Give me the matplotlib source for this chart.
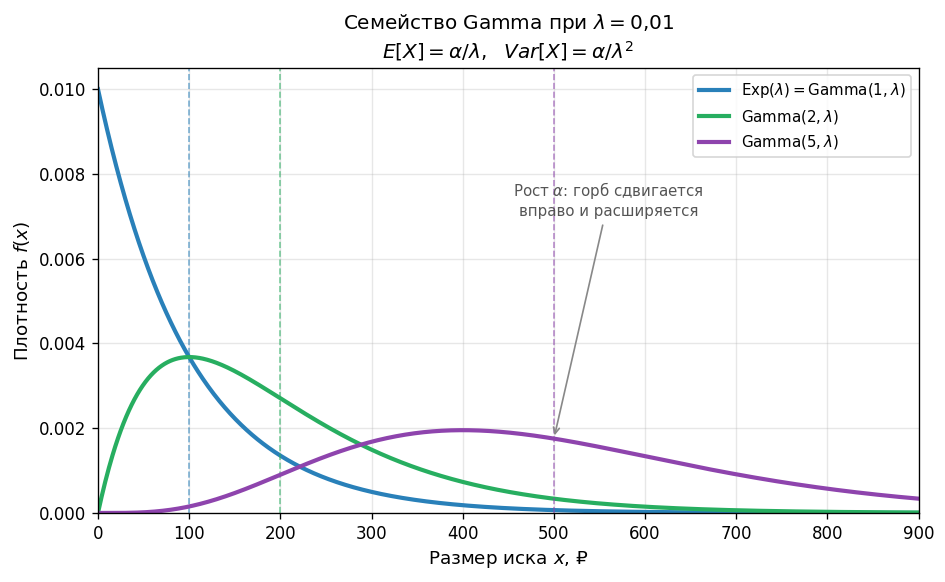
import math
import numpy as np
import matplotlib.pyplot as plt

# параметры семейства
lam = 0.01
alphas = [1, 2, 5]
labels = [r'$\mathrm{Exp}(\lambda) = \mathrm{Gamma}(1, \lambda)$',
          r'$\mathrm{Gamma}(2, \lambda)$',
          r'$\mathrm{Gamma}(5, \lambda)$']
colors = ['#2980b9', '#27ae60', '#8e44ad']
x_max = 900


def gamma_pdf(x, a, l):
    return l ** a * x ** (a - 1) * np.exp(-l * x) / math.gamma(a)


x = np.linspace(0, x_max, 901)

fig, ax = plt.subplots(figsize=(7.88, 4.85), dpi=120)

for a, lab, c in zip(alphas, labels, colors):
    ax.plot(x, gamma_pdf(x, a, lam), color=c, lw=2.5, label=lab)
    ax.axvline(a / lam, color=c, ls='--', lw=1, alpha=0.6)

ax.annotate('Рост $\\alpha$: горб сдвигается\nвправо и расширяется',
            xy=(5 / lam, gamma_pdf(5 / lam, 5, lam)), xytext=(560, 0.0074),
            ha='center', va='center', fontsize=9, color='#555555',
            arrowprops=dict(arrowstyle='->', color='#888888', lw=1))

ax.set_xlim(0, x_max)
ax.set_ylim(0, 0.0105)
ax.set_xticks(np.arange(0, 901, 100))
ax.grid(True, alpha=0.3)
ax.set_xlabel('Размер иска $x$, ₽', fontsize=11)
ax.set_ylabel('Плотность $f(x)$', fontsize=11)
ax.set_title('Семейство Gamma при $\\lambda = 0{,}01$\n'
             '$E[X] = \\alpha/\\lambda,\\ \\ Var[X] = \\alpha/\\lambda^2$',
             fontsize=12)
ax.legend(loc='upper right', fontsize=9)

fig.subplots_adjust(left=0.1036, right=0.9715, top=0.8832, bottom=0.1186)
plt.savefig('out.png')
plt.close()
